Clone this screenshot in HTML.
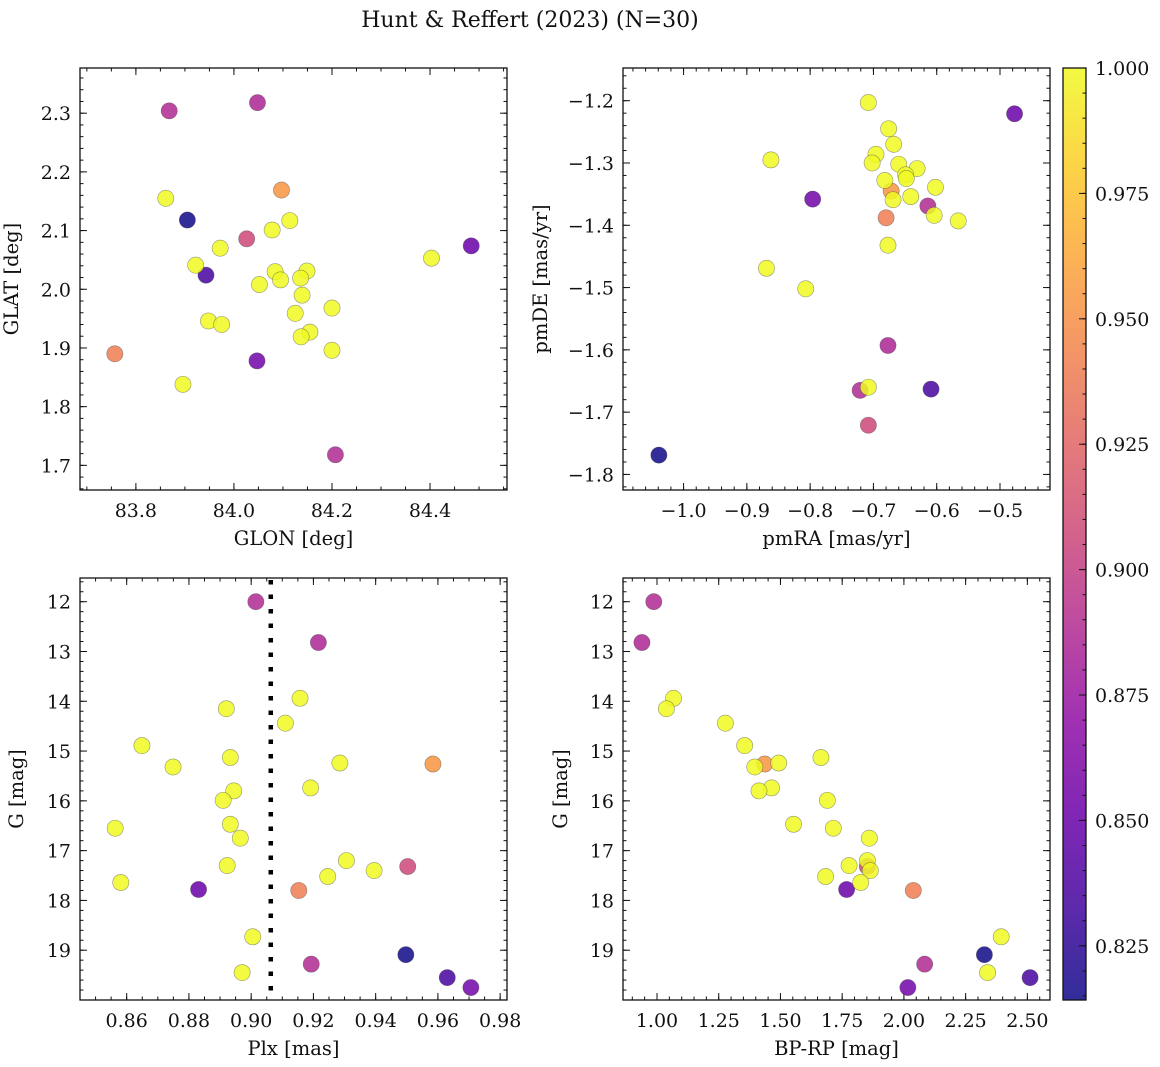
<!DOCTYPE html>
<html><head><meta charset="utf-8"><style>
html,body{margin:0;padding:0;background:#fff;}
svg{display:block;font-family:"DejaVu Serif","Liberation Serif",serif;}
</style></head><body>
<svg id="fig" width="1160" height="1067" viewBox="0 0 1160 1067" xmlns="http://www.w3.org/2000/svg">
<text x="530" y="27" font-size="22" text-anchor="middle" fill="#111">Hunt &amp; Reffert (2023) (N=30)</text>
</svg>
<script>
const starGLON=[83.868,84.048,83.861,84.114,84.078,83.972,84.403,84.097,83.922,84.084,84.149,84.095,84.136,84.052,84.139,84.2,84.125,84.026,83.948,83.975,84.155,84.137,84.484,83.757,84.2,83.905,84.207,84.047,83.896,83.943];
const starGLAT=[2.304,2.318,2.155,2.117,2.101,2.070,2.053,2.169,2.041,2.030,2.031,2.016,2.019,2.008,1.990,1.968,1.959,2.086,1.946,1.940,1.927,1.919,2.074,1.890,1.896,2.118,1.718,1.878,1.838,2.024];
const starPMRA=[-0.614,-0.677,-0.708,-0.676,-0.668,-0.696,-0.862,-0.672,-0.702,-0.660,-0.631,-0.649,-0.648,-0.682,-0.602,-0.669,-0.641,-0.708,-0.604,-0.566,-0.677,-0.869,-0.477,-0.680,-0.807,-1.039,-0.721,-0.796,-0.708,-0.609];
const starPMDE=[-1.369,-1.593,-1.203,-1.245,-1.270,-1.286,-1.295,-1.345,-1.300,-1.302,-1.309,-1.319,-1.325,-1.328,-1.339,-1.359,-1.354,-1.721,-1.384,-1.393,-1.432,-1.469,-1.221,-1.388,-1.502,-1.769,-1.665,-1.358,-1.660,-1.663];
const starPLX=[0.9015,0.9216,0.9157,0.892,0.911,0.8649,0.8749,0.9584,0.9285,0.8933,0.9191,0.8944,0.891,0.8933,0.8563,0.8965,0.9306,0.9503,0.8923,0.9395,0.9246,0.8581,0.8831,0.9153,0.9005,0.9497,0.9193,0.9706,0.8971,0.963];
const starG=[12.00,12.82,13.94,14.15,14.44,14.89,15.32,15.26,15.24,15.13,15.74,15.80,15.99,16.47,16.55,16.75,17.20,17.32,17.30,17.40,17.52,17.64,17.78,17.80,18.73,19.09,19.28,19.75,19.45,19.55];
const starBPRP=[0.987,0.939,1.067,1.038,1.277,1.355,1.396,1.436,1.493,1.664,1.464,1.413,1.690,1.553,1.714,1.860,1.852,1.852,1.778,1.864,1.683,1.825,1.768,2.038,2.394,2.326,2.084,2.016,2.339,2.511];
const starPROB=[0.888,0.885,1,1,1,1,1,0.953,1,1,1,1,1,1,1,1,1,0.907,1,1,1,1,0.851,0.94,1,0.815,0.888,0.855,1,0.835];
const plxLine=0.9063;
const glonTicks=[83.8,84.0,84.2,84.4];
const glatTicks=[1.7,1.8,1.9,2.0,2.1,2.2,2.3];
const pmraTicks=[-1.0,-0.9,-0.8,-0.7,-0.6,-0.5];
const pmdeTicks=[-1.8,-1.7,-1.6,-1.5,-1.4,-1.3,-1.2];
const plxTicks=[0.86,0.88,0.90,0.92,0.94,0.96,0.98];
const gTicks=[12,13,14,15,16,17,18,19];
const bprpTicks=[1.00,1.25,1.50,1.75,2.00,2.25,2.50];
const cbarTicks=[0.825,0.850,0.875,0.900,0.925,0.950,0.975,1.000];
const probMin=0.8142, probMax=1.0;

const NS="http://www.w3.org/2000/svg";
const svg=document.getElementById('fig');
const TF=19, LF=19.5;
function mk(tag,attrs,parent){const e=document.createElementNS(NS,tag);for(const k in attrs)e.setAttribute(k,attrs[k]);(parent||svg).appendChild(e);return e;}
const stops=[[13,8,135],[65,4,157],[106,0,168],[143,13,164],[177,42,144],[204,71,120],[225,100,98],[242,132,75],[252,166,54],[252,206,37],[240,249,33]];
function plasma(t){t=Math.max(0,Math.min(1,t));const f=t*10,i=Math.min(9,Math.floor(f)),u=f-i;const a=stops[i],b=stops[i+1];return 'rgb('+a.map((v,k)=>Math.round(v+(b[k]-v)*u)).join(',')+')';}
function fmt(v,d){const s=Math.abs(v).toFixed(d);return (v<0?'\u2212':'')+s;}

function panel(name,box,xd,yd,xt,yt,xdec,ydec,xminor,yminor,xlab,ylab,ylabX,yInvert){
  const g=mk('g',{});
  
  
  const [x0,y0,x1,y1]=box;
  const sx=v=>x0+(v-xd[0])/(xd[1]-xd[0])*(x1-x0);
  const sy=yInvert? (v=>y0+(v-yd[0])/(yd[1]-yd[0])*(y1-y0)) : (v=>y1-(v-yd[0])/(yd[1]-yd[0])*(y1-y0));
  const tg=mk('g',{stroke:'#111','stroke-width':1},g);
  function ticksX(step,len){const s=Math.ceil((xd[0]+1e-9)/step);for(let k=s;k*step<=xd[1];k++){const X=sx(k*step);mk('line',{x1:X,x2:X,y1:y1,y2:y1-len},tg);mk('line',{x1:X,x2:X,y1:y0,y2:y0+len},tg);}}
  function ticksY(step,len){const lo=Math.min(yd[0],yd[1]),hi=Math.max(yd[0],yd[1]);const s=Math.ceil((lo+1e-9)/step);for(let k=s;k*step<=hi;k++){const Y=sy(k*step);mk('line',{x1:x0,x2:x0+len,y1:Y,y2:Y},tg);mk('line',{x1:x1,x2:x1-len,y1:Y,y2:Y},tg);}}
  ticksX(xminor,3.5);ticksY(yminor,3.5);
  xt.forEach(v=>{const X=sx(v);mk('line',{x1:X,x2:X,y1:y1,y2:y1-7},tg);mk('line',{x1:X,x2:X,y1:y0,y2:y0+7},tg);
    const t=mk('text',{x:X,y:y1+27,'font-size':TF,'text-anchor':'middle',fill:'#111'},g);t.textContent=fmt(v,xdec);
    });
  yt.forEach(v=>{const Y=sy(v);mk('line',{x1:x0,x2:x0+7,y1:Y,y2:Y},tg);mk('line',{x1:x1,x2:x1-7,y1:Y,y2:Y},tg);
    const t=mk('text',{x:x0-9,y:Y+7,'font-size':TF,'text-anchor':'end',fill:'#111'},g);t.textContent=fmt(v,ydec);
    });
  const xl=mk('text',{x:(x0+x1)/2,y:y1+55,'font-size':LF,'text-anchor':'middle',fill:'#111'},g);xl.textContent=xlab;
  
  const yc=(y0+y1)/2;
  const yl=mk('text',{x:ylabX,y:yc,'font-size':LF,'text-anchor':'middle',fill:'#111',transform:'rotate(-90 '+ylabX+' '+yc+')'},g);yl.textContent=ylab;
  
  return {g,sx,sy,box};
}
function points(p,xs,ys,label){
  const clip='clip'+label;const cp=mk('clipPath',{id:clip},p.g);mk('rect',{x:p.box[0],y:p.box[1],width:p.box[2]-p.box[0],height:p.box[3]-p.box[1]},cp);
  const pg=mk('g',{'clip-path':'url(#'+clip+')'},p.g);
  const order=starPROB.map((v,i)=>i).sort((a,b)=>starPROB[a]-starPROB[b]);
  order.forEach(i=>{const c=mk('circle',{cx:p.sx(xs[i]),cy:p.sy(ys[i]),r:8.1,fill:plasma((starPROB[i]-probMin)/(probMax-probMin)),'fill-opacity':0.85,stroke:'rgba(70,70,70,0.55)','stroke-width':0.6},pg);
    
    });
}
function frame(p){const r=mk('rect',{x:p.box[0],y:p.box[1],width:p.box[2]-p.box[0],height:p.box[3]-p.box[1],fill:'none',stroke:'#111','stroke-width':1.3},p.g);
  }

const p1=panel('panel-glon-glat',[80,68,507,490],[83.686,84.557],[1.658,2.377],glonTicks,glatTicks,1,1,0.05,0.02,'GLON [deg]','GLAT [deg]',18,false);
points(p1,starGLON,starGLAT,'1');frame(p1);
const p2=panel('panel-pmra-pmde',[623,68,1050,490],[-1.0957,-0.421],[-1.825,-1.1475],pmraTicks,pmdeTicks,1,1,0.02,0.02,'pmRA [mas/yr]','pmDE [mas/yr]',547,false);
points(p2,starPMRA,starPMDE,'2');frame(p2);
const p3=panel('panel-plx-g',[80,578,507,1000],[0.845,0.9822],[11.524,20.0],plxTicks,gTicks,2,0,0.005,0.2,'Plx [mas]','G [mag]',23,true);
points(p3,starPLX,starG,'3');
const lx=p3.sx(plxLine);
const dl=mk('line',{x1:lx,x2:lx,y1:580,y2:1000,stroke:'#000','stroke-width':4.5,'stroke-dasharray':'4.5 10'},p3.g);


frame(p3);
const p4=panel('panel-bprp-g',[623,578,1050,1000],[0.8623,2.5917],[11.524,20.0],bprpTicks,gTicks,2,0,0.05,0.2,'BP-RP [mag]','G [mag]',567,true);
points(p4,starBPRP,starG,'4');frame(p4);

const cb=mk('g',{});


const cbx0=1063,cbx1=1086,cby0=68,cby1=1000;
const grad=mk('linearGradient',{id:'cbg',x1:0,y1:1,x2:0,y2:0},cb);
for(let k=0;k<=10;k++){mk('stop',{offset:k/10,'stop-color':plasma(k/10),'stop-opacity':0.85},grad);}
mk('rect',{x:cbx0,y:cby0,width:cbx1-cbx0,height:cby1-cby0,fill:'url(#cbg)'},cb);
const cy=v=>cby1-(v-probMin)/(probMax-probMin)*(cby1-cby0);
for(let k=Math.ceil(probMin/0.005);k*0.005<=probMax+1e-9;k++){const Y=cy(k*0.005);mk('line',{x1:cbx1,x2:cbx1-3.5,y1:Y,y2:Y,stroke:'#111'},cb);}
cbarTicks.forEach(v=>{const Y=cy(v);mk('line',{x1:cbx1,x2:cbx1-7,y1:Y,y2:Y,stroke:'#111'},cb);
  const t=mk('text',{x:1095,y:Y+7,'font-size':TF,fill:'#111'},cb);t.textContent=v.toFixed(3);
  
  });
mk('rect',{x:cbx0,y:cby0,width:cbx1-cbx0,height:cby1-cby0,fill:'none',stroke:'#111','stroke-width':1.3},cb);
</script>
</body></html>
